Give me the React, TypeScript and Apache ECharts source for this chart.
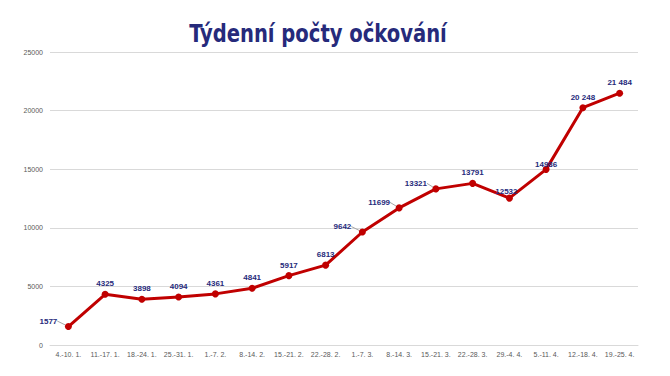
import React, { useEffect, useRef } from "react";
import * as echarts from "echarts";

const categories = ["4.-10. 1.", "11.-17. 1.", "18.-24. 1.", "25.-31. 1.", "1.-7. 2.", "8.-14. 2.", "15.-21. 2.", "22.-28. 2.", "1.-7. 3.", "8.-14. 3.", "15.-21. 3.", "22.-28. 3.", "29.-4. 4.", "5.-11. 4.", "12.-18. 4.", "19.-25. 4."];
const values = [1577, 4325, 3898, 4094, 4361, 4841, 5917, 6813, 9642, 11699, 13321, 13791, 12532, 14986, 20248, 21484];
const labelTexts = ["1577", "4325", "3898", "4094", "4361", "4841", "5917", "6813", "9642", "11699", "13321", "13791", "12532", "14986", "20 248", "21 484"];
const leftLabelIdx = [0, 8, 9, 10];
const yTicks = { min: 0, max: 25000, interval: 5000 };
const titleText = "Týdenní počty očkování";

export default function App() {
  const ref = useRef<HTMLDivElement>(null);
  useEffect(() => {
    const chart = echarts.init(ref.current!, null, { renderer: "svg" });
    const data = values.map((v, i) => ({
      value: v,
      labelLine: { show: leftLabelIdx.includes(i) },
    }));
    chart.setOption({
      animation: false,
      graphic: [
        {
          type: "text",
          x: 318,
          y: 33,
          scaleX: 0.87,
          style: {
            text: titleText,
            font: "bold 25px 'DejaVu Sans Condensed', 'DejaVu Sans', sans-serif",
            fill: "#262a7b",
            align: "center",
            verticalAlign: "middle",
          },
        },
      ],
      grid: { left: 50, right: 32, top: 52, bottom: 31, containLabel: false },
      xAxis: {
        type: "category",
        data: categories,
        boundaryGap: true,
        axisLine: { lineStyle: { color: "#d9d9d9", width: 1 } },
        axisTick: { show: false },
        axisLabel: { color: "#595959", fontSize: 7, fontFamily: "Liberation Sans Narrow, Liberation Sans, sans-serif", margin: 6, interval: 0 },
      },
      yAxis: {
        type: "value",
        min: yTicks.min,
        max: yTicks.max,
        interval: yTicks.interval,
        axisLine: { show: false },
        axisTick: { show: false },
        splitLine: { lineStyle: { color: "#d9d9d9", width: 1 } },
        axisLabel: { color: "#595959", fontSize: 7, fontFamily: "Liberation Sans, sans-serif", margin: 7, formatter: (v: number) => String(v) },
      },
      series: [
        {
          type: "line",
          data,
          symbol: "circle",
          symbolSize: 7,
          lineStyle: { color: "#c00000", width: 3 },
          itemStyle: { color: "#c00000" },
          label: {
            show: true,
            position: "top",
            color: "#262a7b",
            fontSize: 8,
            fontWeight: "bold",
            fontFamily: "Liberation Sans, sans-serif",
            distance: 3,
            formatter: (p: any) => labelTexts[p.dataIndex],
          },
          labelLine: { lineStyle: { color: "#a6a6a6", width: 1 }, smooth: false },
          labelLayout: (p: any) => {
            if (leftLabelIdx.includes(p.dataIndex)) {
              return { dx: -20, dy: 5 };
            }
            if (p.dataIndex === 12) return { dx: -3, dy: 4 };
            if (p.dataIndex === 13) return { dy: 6 };
            return {};
          },
        },
      ],
    });
    return () => chart.dispose();
  }, []);
  return <div ref={ref} style={{ width: 670, height: 376, margin: -8 }} />;
}
